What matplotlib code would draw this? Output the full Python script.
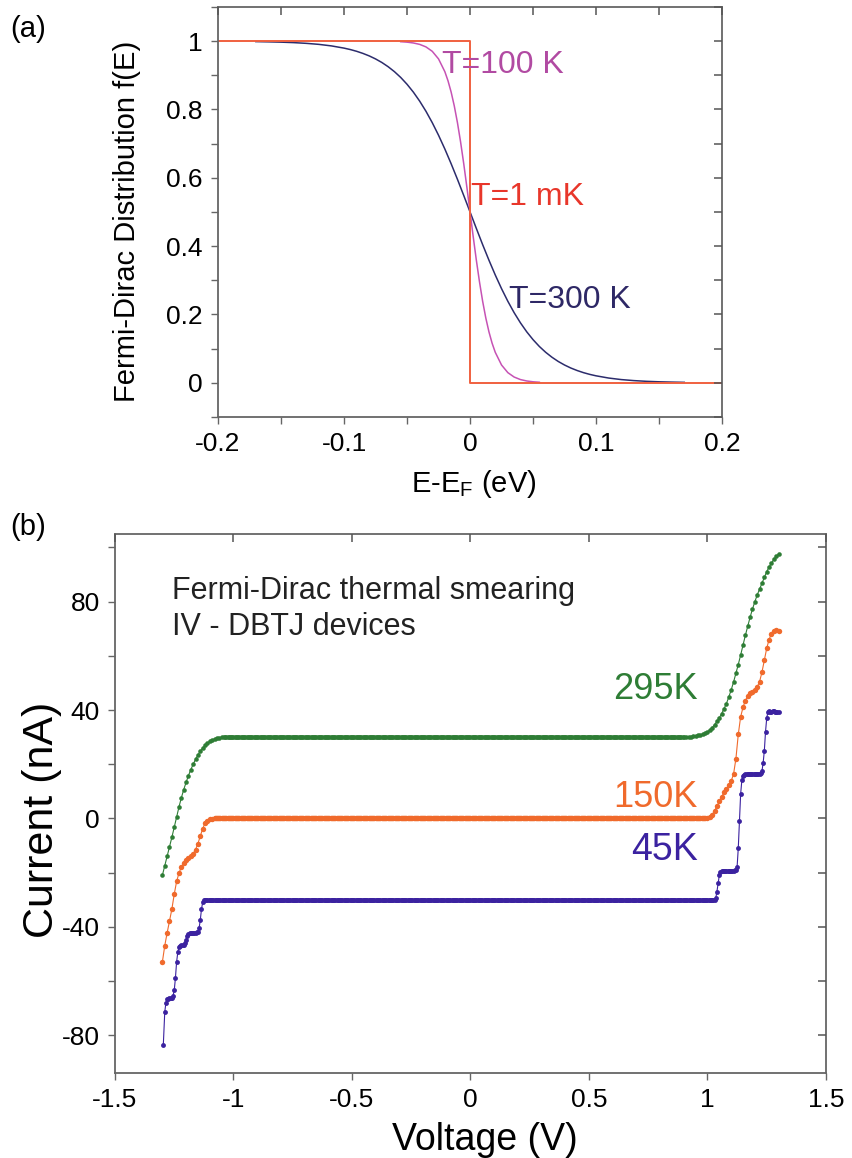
import numpy as np
import matplotlib
matplotlib.use('Agg')
import matplotlib.pyplot as plt
from matplotlib.ticker import MultipleLocator, NullFormatter

plt.rcParams['font.family'] = ['Liberation Sans', 'DejaVu Sans']
plt.rcParams['mathtext.default'] = 'regular'
plt.rcParams['axes.unicode_minus'] = False

# ---------------- panel (a): Fermi-Dirac distribution ----------------
E_1mK = [-0.2, 0.0, 0.0, 0.2]
f_1mK = [1.0, 1.0, 0.0, 0.0]

E_100K = [-0.055, -0.05, -0.045, -0.04, -0.035, -0.03, -0.025, -0.02, -0.0175,
          -0.015, -0.0125, -0.01, -0.0075, -0.005, -0.0025, 0.0,
          0.0025, 0.005, 0.0075, 0.01, 0.0125, 0.015, 0.0175, 0.02, 0.025,
          0.03, 0.035, 0.04, 0.045, 0.05, 0.055]
f_100K = [0.9983, 0.997, 0.9946, 0.9905, 0.9831, 0.9702, 0.9479, 0.9106, 0.884,
          0.8508, 0.8101, 0.7614, 0.7047, 0.6411, 0.572, 0.5,
          0.428, 0.3589, 0.2953, 0.2386, 0.1899, 0.1492, 0.116, 0.0894, 0.0521,
          0.0298, 0.0169, 0.0095, 0.0054, 0.003, 0.0017]

E_300K = [-0.17, -0.16, -0.15, -0.14, -0.13, -0.12, -0.11, -0.10,
          -0.095, -0.09, -0.085, -0.08, -0.075, -0.07, -0.065, -0.06, -0.055,
          -0.05, -0.045, -0.04, -0.035, -0.03, -0.025, -0.02, -0.015, -0.01,
          -0.005, 0.0,
          0.005, 0.01, 0.015, 0.02, 0.025, 0.03, 0.035, 0.04, 0.045, 0.05,
          0.055, 0.06, 0.065, 0.07, 0.075, 0.08, 0.085, 0.09, 0.095,
          0.10, 0.11, 0.12, 0.13, 0.14, 0.15, 0.16, 0.17]
f_300K = [0.9986, 0.9979, 0.997, 0.9956, 0.9935, 0.9905, 0.986, 0.9795,
          0.9753, 0.9702, 0.964, 0.9567, 0.9479, 0.9375, 0.9251, 0.9106, 0.8936,
          0.8737, 0.8508, 0.8245, 0.7948, 0.7614, 0.7245, 0.6843, 0.6411, 0.5956,
          0.5482, 0.5,
          0.4518, 0.4044, 0.3589, 0.3157, 0.2755, 0.2386, 0.2052, 0.1755, 0.1492,
          0.1263, 0.1064, 0.0894, 0.0749, 0.0625, 0.0521, 0.0433, 0.036, 0.0298,
          0.0247, 0.0205, 0.014, 0.0095, 0.0065, 0.0044, 0.003, 0.0021, 0.0014]

x_ticks_a = [-0.2, -0.1, 0, 0.1, 0.2]
x_labels_a = ['-0.2', '-0.1', '0', '0.1', '0.2']
y_ticks_a = [0, 0.2, 0.4, 0.6, 0.8, 1.0]
y_labels_a = ['0', '0.2', '0.4', '0.6', '0.8', '1']

# ---------------- panel (b): IV curves ----------------
# 295 K
V295_left = [-1.30, -1.29, -1.28, -1.27, -1.26, -1.25, -1.24, -1.23, -1.22, -1.21,
             -1.20, -1.19, -1.18, -1.17, -1.16, -1.15, -1.14, -1.13, -1.12, -1.11,
             -1.10, -1.09, -1.08, -1.07, -1.06, -1.05, -1.04]
I295_left = [-21, -17.5, -14, -10.5, -7, -3.3, 0.4, 4.2, 7.6, 10.6,
             13.3, 15.8, 18, 20, 21.8, 23.4, 24.8, 26, 27, 27.8,
             28.4, 28.9, 29.3, 29.6, 29.8, 29.9, 30]
I295_flat = 30.0
V295_flat_range = (-1.035, 0.895)
V295_right = [0.90, 0.91, 0.92, 0.93, 0.94, 0.95, 0.96, 0.97, 0.98, 0.99,
              1.00, 1.01, 1.02, 1.03, 1.04, 1.05, 1.06, 1.07, 1.08, 1.09,
              1.10, 1.11, 1.12, 1.13, 1.14, 1.15, 1.16, 1.17, 1.18, 1.19,
              1.20, 1.21, 1.22, 1.23, 1.24, 1.25, 1.26, 1.27, 1.28, 1.29, 1.30]
I295_right = [30, 30, 30.1, 30.2, 30.3, 30.4, 30.6, 30.8, 31.1, 31.4,
              31.9, 32.6, 33.5, 34.6, 35.8, 37.1, 38.7, 40.5, 42.4, 44.8,
              47.4, 50.3, 53.5, 56.8, 60.3, 64, 67.6, 71, 74.3, 77.3,
              80, 82.5, 84.6, 86.8, 89, 91.1, 92.8, 94.2, 95.6, 96.7, 97.6]

# 150 K
V150_left = [-1.30, -1.29, -1.28, -1.27, -1.26, -1.25, -1.24, -1.23, -1.22, -1.21,
             -1.20, -1.19, -1.18, -1.17, -1.16, -1.15, -1.14, -1.13, -1.12, -1.11,
             -1.10, -1.09, -1.08]
I150_left = [-53, -47, -42.3, -38, -33.5, -28, -23.3, -20.2, -18, -16.6,
             -15.5, -14.7, -14, -13, -11.5, -9.3, -6.6, -3.8, -1.8, -0.8,
             -0.3, -0.1, 0]
I150_flat = 0.0
V150_flat_range = (-1.075, 0.985)
V150_right = [0.99, 1.00, 1.01, 1.02, 1.03, 1.04, 1.05, 1.06, 1.07, 1.08,
              1.09, 1.10, 1.11, 1.12, 1.13, 1.14, 1.15, 1.16, 1.17, 1.18,
              1.19, 1.20, 1.21, 1.22, 1.23, 1.24, 1.25, 1.26, 1.27, 1.28,
              1.29, 1.30]
I150_right = [0, 0.2, 0.6, 1.4, 2.8, 4.5, 6.3, 8, 9.6, 10.8,
              12.2, 13.8, 16.3, 22, 31, 37.5, 41, 43.5, 45.2, 46.2,
              46.8, 47.5, 48.5, 50.5, 54, 58.5, 62.8, 66, 68.2, 69.2,
              69.4, 69.3]

# 45 K
V45_left = [-1.296, -1.29, -1.285, -1.28, -1.275, -1.27, -1.265, -1.26, -1.255,
            -1.25, -1.245, -1.24, -1.235, -1.23, -1.225, -1.22, -1.215, -1.21,
            -1.205, -1.20, -1.195, -1.19, -1.185, -1.18, -1.175, -1.17, -1.165,
            -1.16, -1.155, -1.15, -1.145, -1.14, -1.135, -1.13, -1.125, -1.12]
I45_left = [-83.5, -71.5, -68, -66.8, -66.5, -66.4, -66.4, -66.3, -65.5,
            -63.5, -59, -53, -49.5, -47.5, -47, -46.8, -46.7, -46.6,
            -46, -44.8, -43.3, -42.5, -42.4, -42.3, -42.2, -42.2, -42.2,
            -42.2, -42.1, -42, -40.5, -37.5, -33.5, -31, -30.3, -30]
I45_flat = -30.0
V45_flat_range = (-1.115, 1.025)
V45_right = [1.03, 1.035, 1.04, 1.045, 1.05, 1.055, 1.06, 1.065, 1.07, 1.075,
             1.08, 1.085, 1.09, 1.095, 1.10, 1.105, 1.11, 1.115, 1.12, 1.125,
             1.13, 1.135, 1.14, 1.145, 1.15, 1.155, 1.16, 1.165, 1.17, 1.175,
             1.18, 1.185, 1.19, 1.195, 1.20, 1.205, 1.21, 1.215, 1.22, 1.225,
             1.23, 1.235, 1.24, 1.245, 1.25, 1.255, 1.26, 1.265, 1.27, 1.275,
             1.28, 1.285, 1.29, 1.295, 1.30]
I45_right = [-30, -29.5, -27, -24, -21, -19.8, -19.5, -19.4, -19.4, -19.4,
             -19.4, -19.4, -19.4, -19.4, -19.4, -19.4, -19.3, -19.2, -19, -18,
             -11, -1, 9, 14, 15.8, 16.1, 16.2, 16.3, 16.3, 16.3,
             16.3, 16.3, 16.3, 16.3, 16.3, 16.3, 16.4, 16.4, 16.5, 16.8,
             17.5, 20.5, 25, 32, 37, 39.2, 39.6, 39.4, 39.3, 39.5,
             39.6, 39.4, 39.2, 39.3, 39.4]

x_ticks_b = [-1.5, -1, -0.5, 0, 0.5, 1, 1.5]
x_labels_b = ['-1.5', '-1', '-0.5', '0', '0.5', '1', '1.5']
y_ticks_b = [-80, -40, 0, 40, 80]
y_labels_b = ['-80', '-40', '0', '40', '80']

# ---------------- styling ----------------
C_1MK = '#f0603f'
C_100K = '#c652b4'
C_300K = '#2c2c6c'
C_295 = '#2e7d35'
C_150 = '#f06a2c'
C_45 = '#3b22a0'
SPINE = '#666666'

fig = plt.figure(figsize=(8.53, 11.58), dpi=100)


def style_axes(ax):
    for s in ax.spines.values():
        s.set_color(SPINE)
        s.set_linewidth(1.3)
    ax.tick_params(which='both', direction='out', color=SPINE, width=1.0,
                   length=5, labelsize=19, pad=6)
    ax.tick_params(which='both', top=False, right=False)


def inner_ticks(ax, xstep, ystep):
    ar = ax.twinx()
    ar.set_ylim(ax.get_ylim())
    ar.yaxis.set_major_locator(MultipleLocator(ystep))
    ar.yaxis.set_major_formatter(NullFormatter())
    ar.tick_params(axis='y', direction='in', length=6, width=1.1, color='#555555')
    for s in ar.spines.values():
        s.set_visible(False)
    at = ax.twiny()
    at.set_xlim(ax.get_xlim())
    at.xaxis.set_major_locator(MultipleLocator(xstep))
    at.xaxis.set_major_formatter(NullFormatter())
    at.tick_params(axis='x', direction='in', length=6, width=1.1, color='#555555')
    for s in at.spines.values():
        s.set_visible(False)


# ---- panel (a)
axa = fig.add_axes([0.2556, 0.6399, 0.5909, 0.3541])
axa.plot(E_300K, f_300K, color=C_300K, lw=1.1)
axa.plot(E_100K, f_100K, color=C_100K, lw=1.1)
axa.plot(E_1mK, f_1mK, color=C_1MK, lw=1.4)
axa.set_xlim(-0.2, 0.2)
axa.set_ylim(-0.1, 1.1)
style_axes(axa)
axa.set_xticks(x_ticks_a)
axa.set_xticklabels(x_labels_a)
axa.xaxis.set_minor_locator(MultipleLocator(0.05))
axa.set_yticks(y_ticks_a)
axa.set_yticklabels(y_labels_a)
axa.yaxis.set_minor_locator(MultipleLocator(0.1))
inner_ticks(axa, 0.05, 0.1)

axa.set_xlabel('E-E$_F$ (eV)', fontsize=21)
axa.xaxis.set_label_coords(0.508, -0.125)
axa.set_ylabel('Fermi-Dirac Distribution f(E)', fontsize=21)
axa.yaxis.set_label_coords(-0.152, 0.478)
axa.text(-0.0225, 0.93, 'T=100 K', color='#b14aa2', fontsize=23, va='center', ha='left')
axa.text(0.001, 0.545, 'T=1 mK', color='#e8362a', fontsize=23, va='center', ha='left')
axa.text(0.031, 0.243, 'T=300 K', color='#2e2866', fontsize=23, va='center', ha='left')
fig.text(0.012, 0.975, '(a)', fontsize=21, va='center', ha='left')

# ---- panel (b)
axb = fig.add_axes([0.1348, 0.0734, 0.8335, 0.4655])


def build(vl, il, frange, iflat, vr, ir):
    vf = np.arange(frange[0], frange[1] + 1e-9, 0.005)
    v = np.concatenate([vl, vf, vr])
    i = np.concatenate([il, np.full(len(vf), iflat), ir])
    return v, i


for (vl, il, fr, ifl, vr, ir, c, ms) in [
        (V295_left, I295_left, V295_flat_range, I295_flat, V295_right, I295_right, C_295, 3.3),
        (V150_left, I150_left, V150_flat_range, I150_flat, V150_right, I150_right, C_150, 3.9),
        (V45_left, I45_left, V45_flat_range, I45_flat, V45_right, I45_right, C_45, 3.5)]:
    v, i = build(vl, il, fr, ifl, vr, ir)
    axb.plot(v, i, color=c, lw=0.8, marker='o', ms=ms, mec=c, mfc=c, mew=0)

axb.set_xlim(-1.5, 1.5)
axb.set_ylim(-94, 105)
style_axes(axb)
axb.set_xticks(x_ticks_b)
axb.set_xticklabels(x_labels_b)
axb.set_yticks(y_ticks_b)
axb.set_yticklabels(y_labels_b)
axb.yaxis.set_minor_locator(MultipleLocator(20))
inner_ticks(axb, 0.5, 20)

axb.set_xlabel('Voltage (V)', fontsize=27)
axb.xaxis.set_label_coords(0.52, -0.09)
axb.set_ylabel('Current (nA)', fontsize=31)
axb.yaxis.set_label_coords(-0.075, 0.469)
axb.text(-1.26, 84, 'Fermi-Dirac thermal smearing', fontsize=22, va='center', ha='left', color='#222222')
axb.text(-1.26, 70.5, 'IV - DBTJ devices', fontsize=22, va='center', ha='left', color='#222222')
axb.text(0.96, 47.5, '295K', color=C_295, fontsize=26, va='center', ha='right')
axb.text(0.96, 7.8, '150K', color=C_150, fontsize=26, va='center', ha='right')
axb.text(0.96, -11.5, '45K', color=C_45, fontsize=27, va='center', ha='right')
fig.text(0.012, 0.545, '(b)', fontsize=21, va='center', ha='left')

fig.savefig('out.png', dpi=100)
